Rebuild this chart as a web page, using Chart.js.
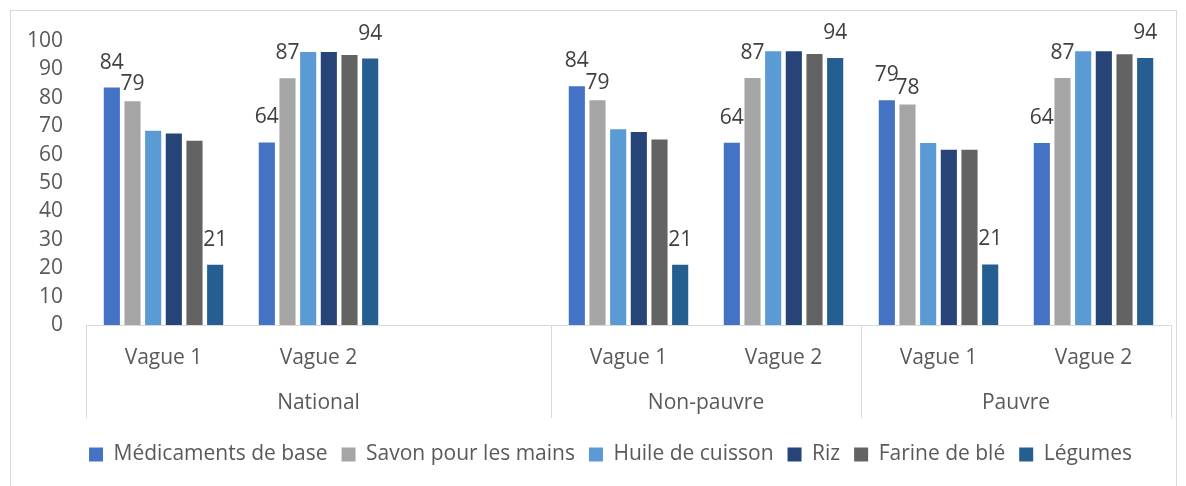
<!DOCTYPE html>
<html>
<head>
<meta charset="utf-8">
<script src="https://cdn.jsdelivr.net/npm/chart.js@4/dist/chart.umd.min.js"></script>
<style>
  body {margin:0; background:#fff;}
  #frame {position:absolute; left:10px; top:10px; width:1167px; height:490px; border:1px solid #d9d9d9; box-sizing:border-box;}
  #wrap {position:absolute; left:0; top:0; width:1186px; height:486px;}
</style>
</head>
<body>
<div id="frame"></div>
<div id="wrap"><canvas id="chartCanvas"></canvas></div>
<script>
/* Categories (second level) and groups (first level) */
const waves=["Vague 1","Vague 2","","Vague 1","Vague 2","Vague 1","Vague 2"];
const groups=["National","Non-pauvre","Pauvre"];
const groupStart=[0,3,5];
const groupEnd=[2,4,6];

/* Series values, one per category (null = empty slot) */
const medicaments=[83.6,64.3,null,84.1,64.2,79.1,64.1];
const savon=[78.8,86.9,null,79.1,87.0,77.6,87.0];
const huile=[68.4,96.1,null,68.9,96.4,64.1,96.4];
const riz=[67.4,96.1,null,68.0,96.4,61.7,96.4];
const farine=[64.9,95.1,null,65.3,95.4,61.7,95.3];
const legumes=[21.2,93.8,null,21.2,94.0,21.3,94.0];

const seriesNames=["Médicaments de base","Savon pour les mains","Huile de cuisson","Riz","Farine de blé","Légumes"];
const seriesColors=["#4472C4","#A5A5A5","#5B9BD5","#264478","#636363","#255E91"];
/* Only these series carry data labels in the original */
const labelledSeries=[0,1,5];

const yTicks=[0,10,20,30,40,50,60,70,80,90,100];

const fontFamily="'Open Sans', sans-serif";
const fontSize=21;
const textColor="#595959";
const lineColor="#d9d9d9";

/**
 * Draws the value labels above the bars of the labelled series.
 * A label that would collide with the label of the previous series is put closer to its bar.
 */
const valueLabels={
  id: "valueLabels",
  afterDatasetsDraw(chart) {
    const ctx=chart.ctx;
    ctx.save();
    ctx.font=fontSize+"px "+fontFamily;
    ctx.fillStyle="#404040";
    ctx.textAlign="center";
    ctx.textBaseline="middle";
    const placed=[];
    labelledSeries.forEach(d=>{
      const meta=chart.getDatasetMeta(d);
      meta.data.forEach((bar,i)=>{
        const v=chart.data.datasets[d].data[i];
        if (v==null) return;
        let y=bar.y-25;
        const hit=placed.find(p=>p.i==i && Math.abs(p.x-bar.x)<30 && Math.abs(p.y-y)<22);
        if (hit) y=bar.y-17;
        placed.push({i: i, x: bar.x, y: y});
        ctx.fillText(Math.round(v),bar.x,y);
      });
    });
    ctx.restore();
  }
};

/**
 * Draws the group level of the category axis (separators + group names).
 * Also moves the legend a bit to the right, as in the original.
 */
const groupAxis={
  id: "groupAxis",
  afterLayout(chart) {
    chart.legend.left+=20;
    chart.legend.right+=20;
  },
  afterDraw(chart) {
    const ctx=chart.ctx;
    const x=chart.scales.x;
    const area=chart.chartArea;
    const half=(x.getPixelForValue(1)-x.getPixelForValue(0))/2;
    const bottom=418;
    ctx.save();
    ctx.strokeStyle=lineColor;
    ctx.lineWidth=1;
    const edges=[area.left];
    groupEnd.forEach(e=>edges.push(x.getPixelForValue(e)+half));
    edges.forEach(px=>{
      const p=Math.round(px)+0.5;
      ctx.beginPath(); ctx.moveTo(p,area.bottom); ctx.lineTo(p,bottom); ctx.stroke();
    });
    ctx.font=fontSize+"px "+fontFamily;
    ctx.fillStyle=textColor;
    ctx.textAlign="center";
    ctx.textBaseline="middle";
    groups.forEach((g,k)=>{
      const c=(x.getPixelForValue(groupStart[k])+x.getPixelForValue(groupEnd[k]))/2;
      ctx.fillText(g,c,403);
    });
    ctx.restore();
  }
};

const seriesData=[medicaments,savon,huile,riz,farine,legumes];
const datasets=seriesNames.map((name,i)=>({
  label: name,
  data: seriesData[i],
  backgroundColor: seriesColors[i],
  borderWidth: 0,
  categoryPercentage: 0.8,
  barPercentage: 0.78
}));

new Chart(document.getElementById("chartCanvas"),{
  type: "bar",
  data: {labels: waves, datasets: datasets},
  options: {
    responsive: true,
    maintainAspectRatio: false,
    animation: false,
    layout: {padding: {left: 10, right: 15, top: 41, bottom: 11}},
    scales: {
      x: {
        grid: {display: false, drawTicks: false},
        border: {display: true, color: lineColor, width: 1},
        ticks: {color: textColor, font: {family: fontFamily, size: fontSize}, padding: 20, maxRotation: 0, autoSkip: false},
        afterFit: s=>{s.height=105;}
      },
      y: {
        min: 0, max: 100,
        afterBuildTicks: s=>{s.ticks=yTicks.map(v=>({value: v}));},
        grid: {display: false, drawTicks: false},
        border: {display: false},
        ticks: {color: textColor, font: {family: fontFamily, size: fontSize}, padding: 23},
        afterFit: s=>{s.width=76;}
      }
    },
    plugins: {
      legend: {
        position: "bottom",
        labels: {color: textColor, font: {family: fontFamily, size: fontSize}, boxWidth: 14, boxHeight: 14, padding: 14}
      },
      tooltip: {enabled: false}
    }
  },
  plugins: [valueLabels,groupAxis]
});
</script>
</body>
</html>
